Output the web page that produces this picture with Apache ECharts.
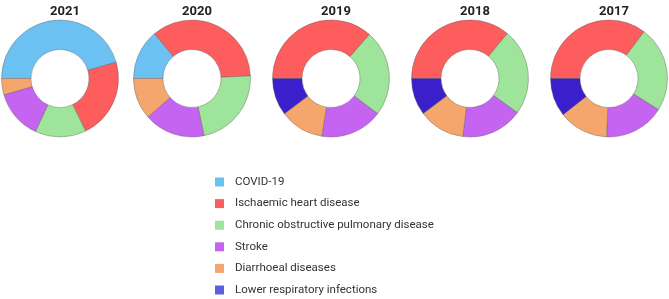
<!DOCTYPE html>
<html>
<head>
<meta charset="utf-8">
<script src="https://cdn.jsdelivr.net/npm/echarts@6/dist/echarts.min.js"></script>
<style>
  html, body { margin: 0; padding: 0; background: #fff; }
  #main { width: 669px; height: 299px; }
</style>
</head>
<body>
<div id="main"></div>
<script>
// years, left to right
var years = ['2021', '2020', '2019', '2018', '2017'];
var causes = ['COVID-19', 'Ischaemic heart disease', 'Chronic obstructive pulmonary disease',
  'Stroke', 'Diarrhoeal diseases', 'Lower respiratory infections'];

// share of deaths (%) per year
var covid  = [45.5, 13.9, 0, 0, 0];
var ihd    = [22.3, 35.4, 36.4, 36.0, 35.2];
var copd   = [14.1, 22.4, 23.9, 23.9, 23.7];
var stroke = [13.6, 16.9, 17.2, 17.0, 16.7];
var diarr  = [4.5, 11.4, 12.2, 12.8, 13.7];
var lri    = [0, 0, 10.3, 10.2, 10.6];

var colors = ['#6cc1f3', '#fd5d5d', '#9ee49a', '#c564f0', '#f4a66c', '#3a1fca'];
var centersX = [60, 192, 331, 470, 609];

var chart = echarts.init(document.getElementById('main'), null, { renderer: 'canvas' });

var rows = [covid, ihd, copd, stroke, diarr, lri];
var series = [];
var titles = [];
for (var y = 0; y < years.length; y++) {
  var data = [];
  for (var c = 0; c < causes.length; c++) {
    if (rows[c][y] > 0) {
      data.push({ name: causes[c], value: rows[c][y], itemStyle: { color: colors[c] } });
    }
  }
  series.push({
    type: 'pie',
    name: years[y],
    center: [centersX[y], 78.5],
    radius: [29, 58.5],
    startAngle: 180,
    clockwise: true,
    avoidLabelOverlap: false,
    label: { show: false },
    labelLine: { show: false },
    emphasis: { disabled: true },
    itemStyle: { borderColor: 'rgba(90,90,90,0.55)', borderWidth: 0.7 },
    data: data
  });
  titles.push({
    text: years[y],
    left: centersX[y],
    top: 0,
    textAlign: 'center',
    textStyle: { fontFamily: 'Roboto', fontWeight: 'bold', fontSize: 13, color: '#222' }
  });
}

// legend swatch for the last cause is lighter than its slices
var legendData = causes.map(function (name, i) {
  var col = i === 5 ? '#5c5fdc' : colors[i];
  return { name: name, itemStyle: { color: col, borderWidth: 0 } };
});

chart.setOption({
  animation: false,
  color: colors,
  title: titles,
  legend: {
    orient: 'vertical',
    left: 212,
    top: 172,
    height: 140,
    padding: 3,
    icon: 'rect',
    itemWidth: 9,
    itemHeight: 9,
    itemGap: 7.6,
    selectedMode: false,
    itemStyle: { borderWidth: 0 },
    data: legendData,
    textStyle: {
      fontFamily: 'Roboto',
      fontSize: 11.5,
      color: '#333',
      lineHeight: 14,
      padding: [0, 0, 0, 6]
    }
  },
  series: series
});
</script>
</body>
</html>
